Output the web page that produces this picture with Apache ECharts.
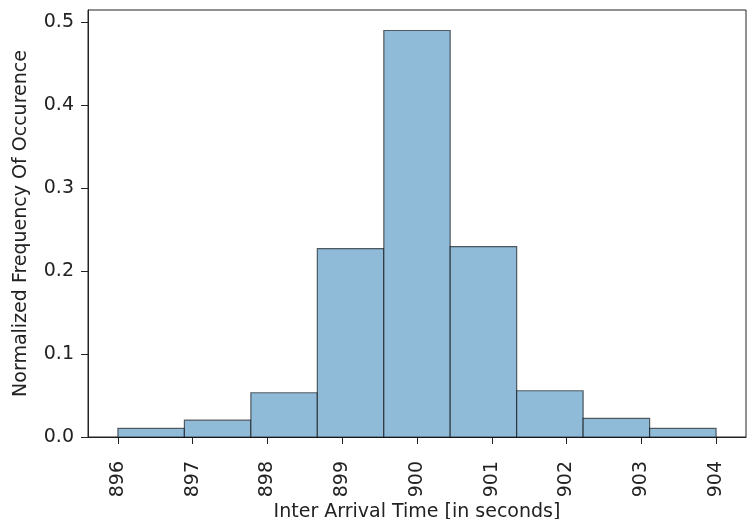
<!DOCTYPE html>
<html>
<head>
<meta charset="utf-8">
<script src="https://cdn.jsdelivr.net/npm/echarts@6/dist/echarts.min.js"></script>
<style>
  html, body { margin: 0; padding: 0; background: #fff; }
  #chart { width: 755px; height: 519px; }
</style>
</head>
<body>
<div id="chart"></div>
<script>
// bin edges (9 bins between 896 and 904) and normalized frequencies
const binEdges = [896, 896.889, 897.778, 898.667, 899.556, 900.444, 901.333, 902.222, 903.111, 904]
const freq = [0.0103, 0.0203, 0.0533, 0.227, 0.4898, 0.2295, 0.0557, 0.0224, 0.0103]
const xTicks = [896, 897, 898, 899, 900, 901, 902, 903, 904]
const yTicks = [0, 0.1, 0.2, 0.3, 0.4, 0.5]

const bins = freq.map((v, i) => [binEdges[i], binEdges[i + 1], v])

const font = 'DejaVu Sans'
const fs = 19

let myChart = echarts.init(document.getElementById('chart'))
myChart.setOption({
  animation: false,
  grid: {
    left: 88, right: 9, top: 10, bottom: 82,
    outerBoundsMode: 'none',
    containLabel: false,
    show: true, borderColor: '#222', borderWidth: 1
  },
  xAxis: {
    type: 'value',
    min: 895.6,
    max: 904.4,
    name: 'Inter Arrival Time [in seconds]',
    nameLocation: 'middle',
    nameMoveOverlap: false,
    nameGap: 66,
    nameTextStyle: { fontFamily: font, fontSize: fs, color: '#222' },
    axisLine: { show: true, onZero: false, lineStyle: { color: '#222' } },
    axisTick: { show: true, length: 7, customValues: xTicks, lineStyle: { color: '#222' } },
    axisLabel: {
      customValues: xTicks,
      rotate: 90,
      margin: 24,
      fontFamily: font, fontSize: fs, color: '#222'
    },
    splitLine: { show: false }
  },
  yAxis: {
    type: 'value',
    min: 0,
    max: 0.5145,
    name: 'Normalized Frequency Of Occurence',
    nameLocation: 'middle',
    nameGap: 57,
    nameTextStyle: { fontFamily: font, fontSize: fs, color: '#222' },
    axisLine: { show: true, lineStyle: { color: '#222' } },
    axisTick: { show: true, length: 7, customValues: yTicks, lineStyle: { color: '#222' } },
    axisLabel: {
      customValues: yTicks,
      margin: 14,
      formatter: v => v.toFixed(1),
      fontFamily: font, fontSize: fs, color: '#222'
    },
    splitLine: { show: false }
  },
  series: [{
    type: 'custom',
    data: bins,
    encode: { x: [0, 1], y: 2 },
    renderItem: function (params, api) {
      let p0 = api.coord([api.value(0), 0])
      let p1 = api.coord([api.value(1), api.value(2)])
      return {
        type: 'rect',
        shape: { x: p0[0], y: p1[1], width: p1[0] - p0[0], height: p0[1] - p1[1] },
        style: { fill: '#8fbbd9', stroke: 'rgba(0,0,0,0.6)', lineWidth: 1.2 }
      }
    }
  }]
})
</script>
</body>
</html>
